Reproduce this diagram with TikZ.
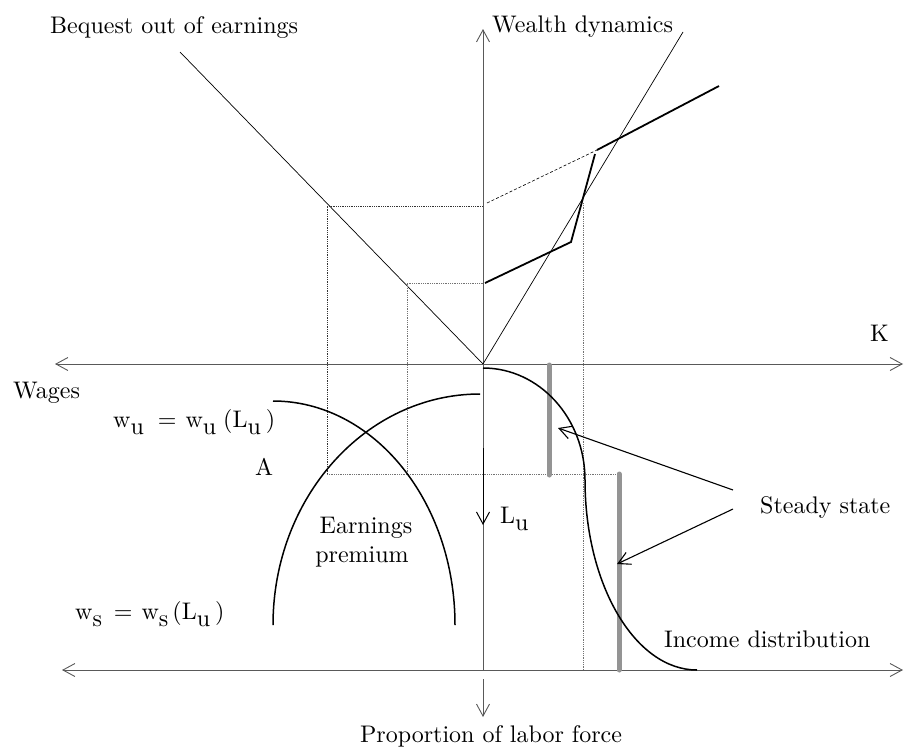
\documentclass[tikz,border=0pt]{standalone}
\usepackage{fontspec}
\setmainfont{lmroman10-regular.otf}
\usepackage{amsmath}
\usepackage{tikz}
\usetikzlibrary{positioning, arrows.meta, calc}

\tikzset{
  axis/.style={black!65, line width=0.9pt},
  barb/.style={-{Straight Barb[length=12pt, width=13pt]}},
  thinline/.style={black, line width=0.7pt},
  thickline/.style={black, line width=1.8pt},
  curve/.style={black, line width=1.5pt},
  guide/.style={black!80, line width=0.8pt, densely dotted},
  steady/.style={black!42, line width=5pt, line cap=round},
  txt/.style={inner sep=0pt, anchor=base west, font=\fontsize{24}{28}\selectfont},
}
\newcommand{\lowsub}[1]{\raisebox{-0.3em}{#1}}

\begin{document}
\begin{tikzpicture}[x=1pt, y=-1pt]
    \useasboundingbox (0,0) rectangle (904,747);
    \coordinate (O) at (483,364);

    % Axes
    \draw[axis, {Straight Barb[length=12pt, width=13pt]}-{Straight Barb[length=12pt, width=13pt]}] (55,364) -- (903,364);
    \draw[axis, {Straight Barb[length=12pt, width=13pt]}-{Straight Barb[length=12pt, width=13pt]}] (62,670) -- (903,670);
    \draw[axis, barb] (483,670) -- (483,29);
    \draw[axis, barb] (483,679) -- (483,717);
    \draw[black, line width=1pt, barb] (483,448) -- (483,525);

    % Bequest line and 45 degree line
    \draw[thinline] (180,52) -- (O);
    \draw[thinline] (O) -- (683,32);

    % Guides (dotted)
    \draw[guide] (327,474) -- (327,206) -- (483,206);
    \draw[guide, black!55] (407,474) -- (407,283) -- (483,283);
    \draw[guide, black!55] (327,474) -- (617,474);
    \draw[guide, black!55] (583,203) -- (583,670);

    % Wealth dynamics
    \draw[black, line width=0.6pt, densely dashed] (487,203) -- (597,150);
    \draw[thickline] (485,283) -- (571,242) -- (595,154);
    \draw[thickline] (597,150) -- (719,86);

    % Steady states
    \foreach \x/\ya/\yb in {549/365/475, 619/474/670}
        \draw[steady] (\x,\ya) -- (\x,\yb);

    % Income distribution
    \draw[curve] (483,368) arc[start angle=-90, end angle=0, x radius=102, y radius=112]
        arc[start angle=180, end angle=90, x radius=112, y radius=190];

    % Wage curves
    \draw[curve] (273,401) arc[start angle=-90, end angle=0, x radius=182, y radius=224];
    \draw[curve] (480,394) arc[start angle=-90, end angle=-180, x radius=207, y radius=231];

    % Labels
    \node[txt] (bequest) at (50,33) {Bequest out of earnings};
    \node[txt] (wealth) at (492,32) {Wealth dynamics};
    \node[txt] (kcap) at (870,341) {K};
    \node[txt] (wages) at (13,398) {Wages};
    \node[txt] (wu) at (113,427) {w\lowsub{u}\hspace{14pt}=\hspace{9pt}w\lowsub{u}\hspace{7pt}(L\lowsub{u}\hspace{5pt})};
    \node[txt] (pointA) at (255,475) {A};
    \node[txt, anchor=base] (earn) at (366,533) {Earnings};
    \node[txt, anchor=base] (prem) at (362,562) {premium};
    \node[txt] (ws) at (75,619) {w\lowsub{s}\hspace{12pt}=\hspace{9pt}w\lowsub{s}\hspace{4pt}(L\lowsub{u}\hspace{5pt})};
    \node[txt] (lu) at (500,523) {L\lowsub{u}};
    \node[txt] (ss) at (760,513) {Steady state};
    \node[txt] (income) at (664,647) {Income distribution};
    \node[txt, anchor=base] (labor) at (491,742) {Proportion of labor force};

    % Arrows to steady states
    \coordinate (ss1) at (558,428);
    \coordinate (ss2) at (617,564);
    \draw[black, line width=1.1pt, barb] ($(ss.west)+(-27,-17)$) -- (ss1);
    \draw[black, line width=1.1pt, barb] ($(ss.west)+(-27,2)$) -- (ss2);
\end{tikzpicture}
\end{document}
